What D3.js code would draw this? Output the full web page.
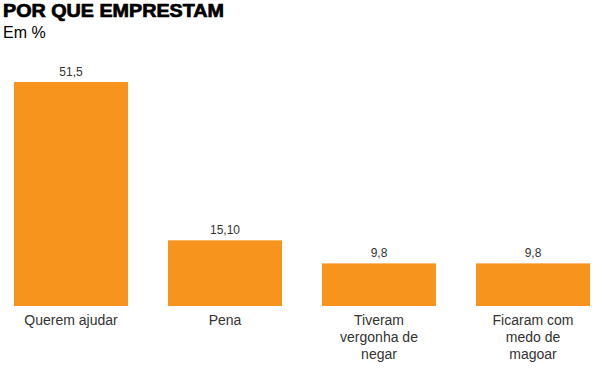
<!DOCTYPE html>
<html>
<head>
<meta charset="utf-8">
<script src="https://cdn.jsdelivr.net/npm/d3@7"></script>
<style>
    body { margin: 0; background: #fff; }
    svg { display: block; font-family: "Liberation Sans", Arial, sans-serif; }
</style>
</head>
<body>
<script>
// data
let categories = ["Querem ajudar", "Pena", "Tiveram vergonha de negar", "Ficaram com medo de magoar"];
let values = [51.5, 15.1, 9.8, 9.8];
let valueLabels = ["51,5", "15,10", "9,8", "9,8"];

let width = 596, height = 372;

let svg = d3.select("body").append("svg")
    .attr("width", width)
    .attr("height", height);

svg.append("text")
    .attr("x", 3)
    .attr("y", 17)
    .attr("font-size", 18)
    .attr("font-weight", "bold")
    .attr("fill", "#000")
    .attr("stroke", "#000")
    .attr("stroke-width", 0.7)
    .attr("textLength", 221)
    .attr("lengthAdjust", "spacingAndGlyphs")
    .text("POR QUE EMPRESTAM");

svg.append("text")
    .attr("x", 3)
    .attr("y", 38)
    .attr("font-size", 16)
    .attr("fill", "#000")
    .text("Em %");

let x = d3.scaleBand()
    .domain(categories)
    .range([14, 590])
    .paddingInner(40 / 154)
    .paddingOuter(0);

let y = d3.scaleLinear()
    .domain([0, 51.5])
    .range([306, 82]);

let bars = svg.selectAll(".bar")
    .data(categories)
    .enter().append("g")
    .attr("class", "bar");

bars.append("rect")
    .attr("x", d => x(d))
    .attr("y", (d, i) => y(values[i]))
    .attr("width", x.bandwidth())
    .attr("height", (d, i) => y(0) - y(values[i]))
    .attr("fill", "#f7941d");

bars.append("text")
    .attr("x", d => x(d) + x.bandwidth() / 2)
    .attr("y", (d, i) => y(values[i]) - 6)
    .attr("text-anchor", "middle")
    .attr("font-size", 12)
    .attr("fill", "#333")
    .text((d, i) => valueLabels[i]);

// category labels, wrapped to fit under the bar
let axis = d3.axisBottom(x).tickSize(0).tickPadding(0);
let axisG = svg.append("g")
    .attr("transform", `translate(0, ${y(0)})`)
    .call(axis);
axisG.select(".domain").remove();
axisG.selectAll(".tick text")
    .attr("font-size", 14)
    .attr("font-family", "Liberation Sans, Arial, sans-serif")
    .attr("fill", "#333")
    .attr("y", 0)
    .attr("dy", 0)
    .each(function (d) {
        let t = d3.select(this);
        let words = d.split(" ");
        t.text(null);
        let line = [];
        let lineNo = 0;
        let tspan = t.append("tspan").attr("x", 0).attr("y", 19);
        for (let w of words) {
            line.push(w);
            tspan.text(line.join(" "));
            if (tspan.node().getComputedTextLength() > 100 && line.length > 1) {
                line.pop();
                tspan.text(line.join(" "));
                line = [w];
                lineNo++;
                tspan = t.append("tspan").attr("x", 0).attr("y", 19 + lineNo * 17).text(w);
            }
        }
    });
</script>
</body>
</html>
